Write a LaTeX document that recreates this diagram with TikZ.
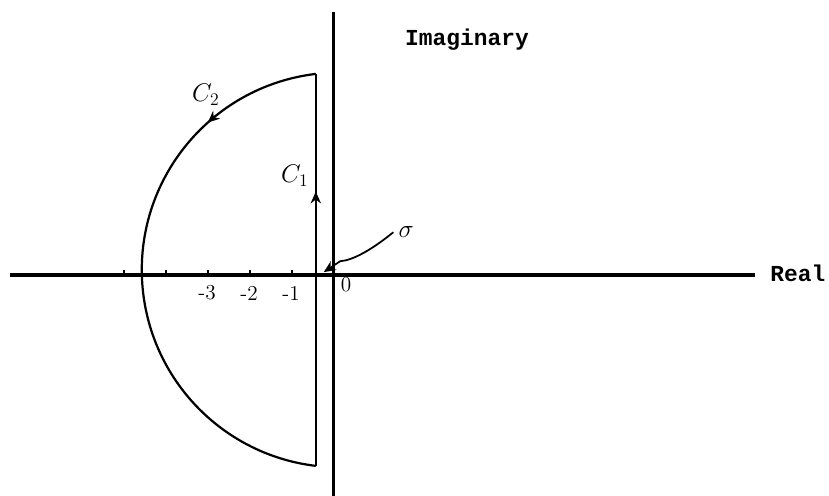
\documentclass[tikz,border=0pt]{standalone}
\usepackage{fontspec}
\setmonofont{Liberation Mono}
\usetikzlibrary{arrows.meta, decorations.markings}

\begin{document}
\begin{tikzpicture}[font=\Large]
\useasboundingbox (-7.95,-5.26) rectangle (11.79,6.55);
\tikzset{
  axis/.style={line width=2.2pt},
  contour/.style={line width=1.5pt},
  axislabel/.style={font=\fontsize{15.5}{18}\selectfont\ttfamily\bfseries},
  handlabel/.style={font=\fontsize{18}{21}\selectfont},
  midarrow/.style={postaction={decorate}, decoration={markings,
    mark=at position #1 with {\arrow{Stealth[length=8pt,width=7pt]}}}}
}

% axes
\draw[axis] (-7.71,0) -- (10.02,0);
\draw[axis] (0,-5.26) -- (0,6.26);
\node[axislabel] (real) at (11.05,0.05) {Real};
\node[axislabel] (imag) at (3.17,5.60) {Imaginary};

% ticks on the real axis
\foreach \x in {-1,...,-5}
  \draw[line width=1.2pt] (\x,0) -- (\x,0.13);
\foreach \n in {1,2,3}
  \node (t\n) at (-\n-0.02,-0.43) {-\n};
\node (zero) at (0.29,-0.22) {0};

% contour C1 (straight part) and C2 (arc)
\coordinate (c1bot) at (-0.43,-4.55);
\coordinate (c1top) at (-0.43,4.79);
\draw[contour, midarrow=0.70] (c1bot) -- (c1top);
\draw[contour, midarrow=0.21] (c1top) arc[start angle=96.8, end angle=263.2, radius=4.70];
\node[handlabel] (c1) at (-0.93,2.36) {$C_1$};
\node[handlabel] (c2) at (-3.05,4.29) {$C_2$};

% sigma pointer
\node[handlabel] (sig) at (1.72,1.02) {$\sigma$};
\coordinate (sigtip) at (-0.24,0.07);
\draw[line width=1.2pt, -{Stealth[length=8pt,width=7pt]}] (sig.west) .. controls (0.9,0.6) and (0.45,0.35) .. (0.15,0.33) -- (sigtip);
\end{tikzpicture}
\end{document}
